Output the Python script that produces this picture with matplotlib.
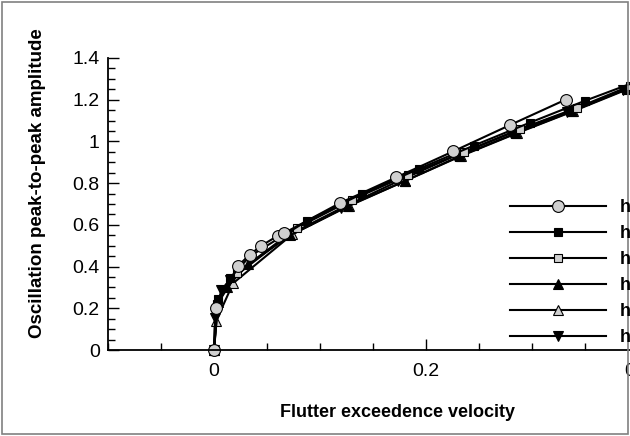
import matplotlib
matplotlib.use("Agg")
import matplotlib.pyplot as plt
from matplotlib.patches import Rectangle
from matplotlib.ticker import MultipleLocator, FuncFormatter

plt.rcParams['font.family'] = ['Liberation Sans', 'DejaVu Sans']

labels = ["h = 0.00", "h = 0.05", "h = 0.10", "h = 0.15", "h = 0.20", "h = 0.25"]

x_circ = [0, 0.0015, 0.023, 0.0335, 0.0446, 0.060, 0.066, 0.119, 0.172, 0.2255, 0.279, 0.332]
y_circ = [0, 0.203, 0.405, 0.456, 0.50, 0.547, 0.56, 0.705, 0.828, 0.952, 1.078, 1.201]

x_bsq = [0, 0.004, 0.015, 0.034, 0.088, 0.140, 0.193, 0.245, 0.298, 0.350, 0.40]
y_bsq = [0, 0.245, 0.345, 0.45, 0.62, 0.75, 0.868, 0.98, 1.09, 1.195, 1.29]

x_gsq = [0, 0.003, 0.022, 0.078, 0.130, 0.183, 0.236, 0.289, 0.342, 0.392]
y_gsq = [0, 0.22, 0.37, 0.585, 0.72, 0.84, 0.95, 1.06, 1.16, 1.265]

x_btri = [0, 0.004, 0.012, 0.032, 0.072, 0.126, 0.18, 0.232, 0.285, 0.338, 0.391]
y_btri = [0, 0.23, 0.30, 0.41, 0.55, 0.69, 0.81, 0.93, 1.04, 1.145, 1.255]

x_gtri = [0, 0.002, 0.018, 0.074, 0.127, 0.18, 0.233, 0.286, 0.339, 0.39]
y_gtri = [0, 0.14, 0.32, 0.555, 0.69, 0.81, 0.93, 1.04, 1.145, 1.25]

x_dtri = [0, 0.001, 0.007, 0.015, 0.07, 0.12, 0.174, 0.227, 0.28, 0.333, 0.386]
y_dtri = [0, 0.155, 0.29, 0.335, 0.55, 0.68, 0.81, 0.93, 1.04, 1.14, 1.245]

W, H = 630, 436
fig = plt.figure(figsize=(W / 100, H / 100), dpi=100)

x0, x1 = -0.1, 0.5
px_per = 1060.0
left = 108 / W
width = (x1 - x0) * px_per / W
bottom = (H - 350) / H
height = (350 - 58) / H
ax = fig.add_axes([left, bottom, width, height])
ax.set_xlim(x0, x1)
ax.set_ylim(0, 1.4)

gray = "#d0d0d0"
lw = 1.5
series = [
    (x_dtri, y_dtri, "v", "black", 6.5),
    (x_gtri, y_gtri, "^", gray, 7),
    (x_btri, y_btri, "^", "black", 6.5),
    (x_gsq, y_gsq, "s", gray, 6),
    (x_bsq, y_bsq, "s", "black", 6),
    (x_circ, y_circ, "o", gray, 8.5),
]
handles = {}
for (xs, ys, m, fc, ms), lab in zip(series, labels[::-1]):
    h, = ax.plot(xs, ys, color="black", lw=lw, marker=m, markerfacecolor=fc,
                 markeredgecolor="black", markeredgewidth=0.8, markersize=ms,
                 label=lab, clip_on=False)
    handles[lab] = h

for s in ["top", "right"]:
    ax.spines[s].set_visible(False)
for s in ["left", "bottom"]:
    ax.spines[s].set_linewidth(1.3)

ax.xaxis.set_major_locator(MultipleLocator(0.2))
ax.xaxis.set_minor_locator(MultipleLocator(0.05))
ax.yaxis.set_major_locator(MultipleLocator(0.2))
ax.yaxis.set_minor_locator(MultipleLocator(0.05))
fmt = FuncFormatter(lambda v, p: ("%g" % round(v, 3)))
ax.xaxis.set_major_formatter(fmt)
ax.yaxis.set_major_formatter(fmt)
ax.tick_params(which="both", direction="in", width=1.0, labelsize=14)
ax.tick_params(which="major", length=8)
ax.tick_params(which="minor", length=5)
ax.tick_params(axis="x", pad=9)
ax.tick_params(axis="y", pad=6)

fig.text(38 / W, 1 - 183 / H, "Oscillation peak-to-peak amplitude", rotation=90,
         ha="center", va="center", fontsize=13.5, fontweight="bold")
fig.text(397 / W, 1 - 412 / H, "Flutter exceedence velocity",
         ha="center", va="center", fontsize=13, fontweight="bold")

leg = fig.legend([handles[l] for l in labels], labels, loc="upper left",
                 bbox_to_anchor=(510 / W, 1 - 199 / H), frameon=False,
                 handlelength=5.3, handletextpad=0.8, labelspacing=0.5,
                 prop={"size": 13, "weight": "bold"}, numpoints=1,
                 borderaxespad=0, borderpad=0)

fig.patches.append(Rectangle((2 / W, 2 / H), 1 - 4 / W, 1 - 4 / H,
                             transform=fig.transFigure, fill=False,
                             edgecolor="#808080", lw=1.2))

fig.savefig("out.png", dpi=100)
